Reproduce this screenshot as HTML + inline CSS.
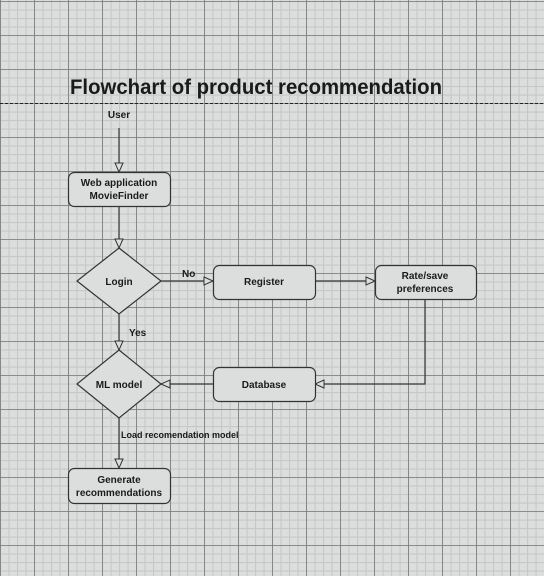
<!DOCTYPE html>
<html><head><meta charset="utf-8"><style>
html,body{margin:0;padding:0;width:544px;height:576px;overflow:hidden;background:#dcdedd}
svg{display:block}
text{font-family:"Liberation Sans",sans-serif;fill:#1a1a1a}
</style></head><body>
<svg width="544" height="576" viewBox="0 0 544 576" xmlns="http://www.w3.org/2000/svg">
<defs>
<pattern id="minor" x="0" y="1" width="8.5" height="8.5" patternUnits="userSpaceOnUse">
<path d="M0 0H8.5M0 0V8.5" stroke="#c6c8c7" stroke-width="2.2" fill="none"/>
</pattern>
<pattern id="major" x="0" y="1" width="34" height="34" patternUnits="userSpaceOnUse">
<path d="M0 0H34M0 0V34" stroke="#767877" stroke-width="1.6" fill="none"/>
</pattern>
<marker id="ar" markerWidth="12" markerHeight="12" refX="10" refY="5" orient="auto" markerUnits="userSpaceOnUse">
<path d="M1 1 L10 5 L1 9 Z" fill="#dcdedd" stroke="#333" stroke-width="1"/>
</marker>
</defs>
<rect width="544" height="576" fill="#dcdedd"/>
<rect width="544" height="576" fill="url(#minor)"/>
<rect width="544" height="576" fill="url(#major)"/>

<text x="70" y="94" font-size="21" font-weight="bold" textLength="372" lengthAdjust="spacingAndGlyphs" fill="#111">Flowchart of product recommendation</text>
<line x1="0" y1="103.5" x2="544" y2="103.5" stroke="#222" stroke-width="1" stroke-dasharray="3,2"/>

<g stroke="#333" stroke-width="1.2" fill="none">
<line x1="119" y1="128" x2="119" y2="172" marker-end="url(#ar)"/>
<line x1="119" y1="206" x2="119" y2="248" marker-end="url(#ar)"/>
<line x1="119" y1="314" x2="119" y2="350" marker-end="url(#ar)"/>
<line x1="119" y1="418" x2="119" y2="468" marker-end="url(#ar)"/>
<line x1="161" y1="281" x2="213" y2="281" marker-end="url(#ar)"/>
<line x1="315" y1="281" x2="375" y2="281" marker-end="url(#ar)"/>
<polyline points="425,299 425,384 315,384" marker-end="url(#ar)"/>
<line x1="213" y1="384" x2="161" y2="384" marker-end="url(#ar)"/>
</g>

<g fill="#dcdedd" stroke="#333" stroke-width="1.2">
<rect x="68.5" y="172.5" width="102" height="34" rx="6"/>
<polygon points="119,248 161,281 119,314 77,281"/>
<rect x="213.5" y="265.5" width="102" height="34" rx="6"/>
<rect x="375.5" y="265.5" width="101" height="34" rx="6"/>
<polygon points="119,350 161,384 119,418 77,384"/>
<rect x="213.5" y="367.5" width="102" height="34" rx="6"/>
<rect x="68.5" y="468.5" width="102" height="35" rx="6"/>
</g>

<g font-size="10" text-anchor="middle" font-weight="bold">
<text x="119" y="118">User</text>
<text x="119" y="186">Web application</text>
<text x="119" y="199">MovieFinder</text>
<text x="119" y="285">Login</text>
<text x="264" y="285">Register</text>
<text x="425" y="279">Rate/save</text>
<text x="425" y="292">preferences</text>
<text x="119" y="388">ML model</text>
<text x="264" y="388">Database</text>
<text x="119" y="483">Generate</text>
<text x="119" y="496">recommendations</text>
</g>
<g font-size="10" font-weight="bold">
<text x="182" y="277">No</text>
<text x="129" y="336">Yes</text>
<text x="121" y="438" font-size="9">Load  recomendation model</text>
</g>
</svg>
</body></html>
